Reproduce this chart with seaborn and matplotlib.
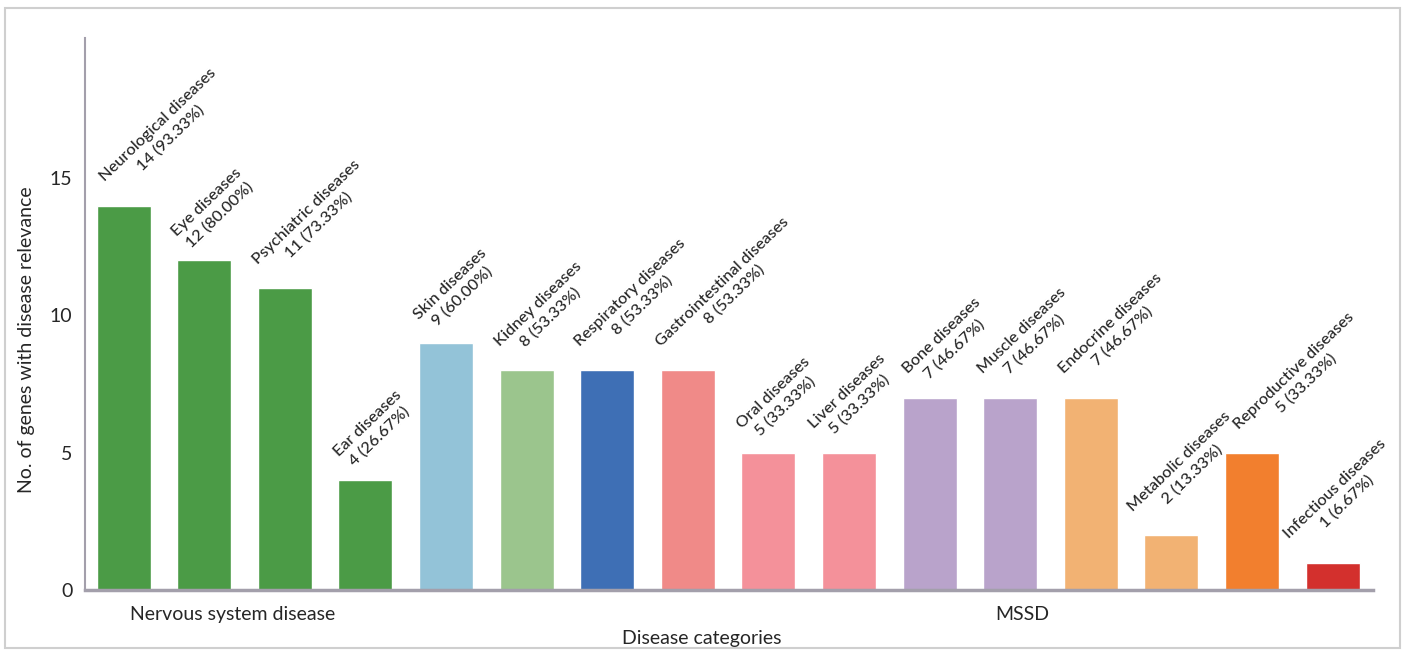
import matplotlib
matplotlib.use("Agg")
import matplotlib.pyplot as plt
import matplotlib.transforms as mtransforms
from matplotlib.patches import Rectangle
import seaborn as sns
import pandas as pd

# data
categories = ["Neurological diseases", "Eye diseases", "Psychiatric diseases", "Ear diseases",
              "Skin diseases", "Kidney diseases", "Respiratory diseases", "Gastrointestinal diseases",
              "Oral diseases", "Liver diseases", "Bone diseases", "Muscle diseases",
              "Endocrine diseases", "Metabolic diseases", "Reproductive diseases", "Infectious diseases"]
counts = [14, 12, 11, 4, 9, 8, 8, 8, 5, 5, 7, 7, 7, 2, 5, 1]
percents = ["93.33%", "80.00%", "73.33%", "26.67%", "60.00%", "53.33%", "53.33%", "53.33%",
            "33.33%", "33.33%", "46.67%", "46.67%", "46.67%", "13.33%", "33.33%", "6.67%"]
bar_colors = ["#4b9b46", "#4b9b46", "#4b9b46", "#4b9b46",
              "#93c3d8", "#9bc58d", "#3e6fb5", "#f08a88",
              "#f4919a", "#f4919a", "#b9a3cb", "#b9a3cb",
              "#f2b273", "#f2b273", "#f27f2e", "#d3302d"]
groups = ["Nervous system disease", "MSSD"]
group_pos = [1.35, 11.15]

sns.set_style("white")
plt.rcParams['font.family'] = ['Lato', 'DejaVu Sans']

df = pd.DataFrame({"category": categories, "count": counts})

fig = plt.figure(figsize=(14.05, 6.5), dpi=100)
ax = fig.add_axes([85 / 1405, 60 / 650, 1288 / 1405, 552 / 650])

sns.barplot(data=df, x="category", y="count", hue="category", order=categories,
            palette=bar_colors, legend=False, width=0.67, saturation=1, ax=ax)

ax.set_xlim(-0.48, 15.5)
ax.set_ylim(0, 20.1)
ax.set_yticks([0, 5, 10, 15])
ax.set_xticks([])
ax.tick_params(axis="y", length=0, pad=9, labelsize=14)
ax.set_xlabel("")
ax.set_ylabel("No. of genes with disease relevance", fontsize=14)
ax.yaxis.set_label_coords(-0.039, 0.453)

for side in ["top", "right"]:
    ax.spines[side].set_visible(False)
ax.spines["left"].set_color("#a39fab")
ax.spines["left"].set_linewidth(1.5)
ax.spines["bottom"].set_color("#a39fab")
ax.spines["bottom"].set_linewidth(2.5)

# rotated two-line labels above each bar; a few nudged so they don't collide
nudge = {0: 6, 9: -6, 10: 4, 13: -8, 14: 10, 15: -12}
for i, (c, n, p) in enumerate(zip(categories, counts, percents)):
    dx = -9 + nudge.get(i, 0)
    ax.annotate(f"{c}\n{n} ({p})", xy=(i, n), xytext=(dx, 6), textcoords="offset points",
                rotation=44, rotation_mode="anchor", ha="left", va="bottom",
                multialignment="center", fontsize=11.8, linespacing=1.3, fontweight="medium")

# group labels and axis title below the bars
trans = mtransforms.blended_transform_factory(ax.transData, ax.transAxes)
for g, xpos in zip(groups, group_pos):
    ax.text(xpos, -0.045, g, transform=trans, ha="center", va="center", fontsize=14)
ax.text(7.17, -0.087, "Disease categories", transform=trans, ha="center", va="center", fontsize=14)

# light frame around the whole figure
fig.patches.append(Rectangle((5 / 1405, 2 / 650), 1395 / 1405, 640 / 650, transform=fig.transFigure,
                             fill=False, edgecolor="#cfcfcf", linewidth=1.5))

fig.savefig("out.png", dpi=100)
